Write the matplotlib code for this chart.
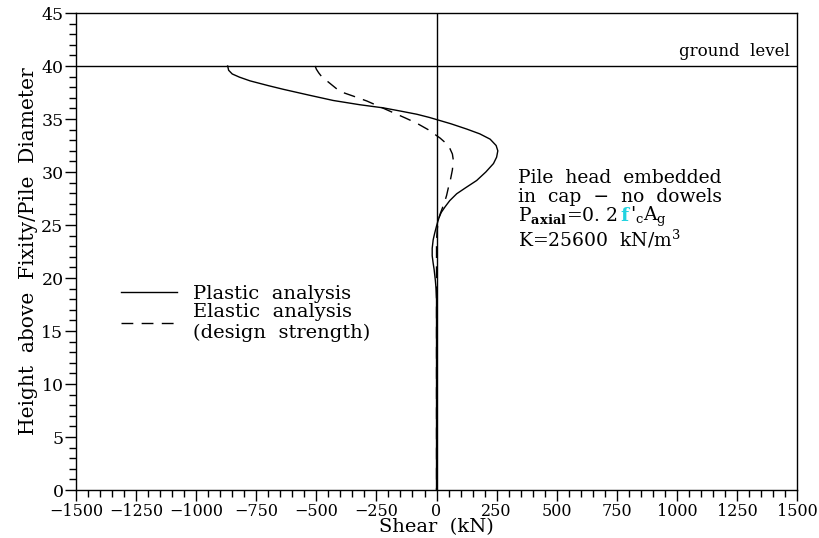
import matplotlib
matplotlib.use("Agg")
import matplotlib.pyplot as plt
from matplotlib.ticker import MultipleLocator

plt.rcParams['font.family'] = ['DejaVu Serif']
plt.rcParams['mathtext.fontset'] = 'dejavuserif'

# shear profiles along the pile (kN vs height / diameter)
plastic_height = [40.0, 39.6, 39.25, 38.95, 38.6, 38.15, 37.8, 37.25, 36.75, 36.35,
                  36.05, 35.75, 35.45, 35.15, 34.95, 34.55, 34.05, 33.6, 33.1, 32.5,
                  32.0, 31.4, 30.8, 30.0, 29.2, 28.5, 27.95, 27.3, 26.7, 26.2,
                  25.8, 25.3, 24.9, 24.2, 23.6, 22.8, 22.1, 21.4, 20.8, 19.8,
                  19.0, 18.0, 10.0, 0.0]
plastic_shear = [-869, -865, -850, -820, -776, -700, -637, -530, -430, -320,
                 -221, -150, -82, -30, 0, 60, 126, 180, 223, 248,
                 255, 250, 237, 205, 167, 120, 84, 55, 35, 20,
                 12, 5, 0, -8, -14, -18, -18, -14, -10, -5,
                 -2, 0, 0, 0]

elastic_height = [40.0, 39.7, 39.35, 39.0, 38.3, 37.6, 37.15, 36.7, 36.15, 35.6,
                  35.1, 34.6, 34.0, 33.2, 32.7, 32.2, 31.7, 31.1, 30.2, 29.4,
                  28.6, 27.8, 27.2, 26.7, 26.1, 25.5, 24.6, 23.5, 10.0, 0.0]
elastic_shear = [-505, -500, -490, -478, -440, -402, -345, -290, -235, -180,
                 -130, -82, -35, 15, 40, 56, 66, 70, 66, 59,
                 50, 42, 34, 26, 16, 8, 3, 0, 0, 0]

ground_level = 40
x_ticks = [-1500, -1250, -1000, -750, -500, -250, 0, 250, 500, 750, 1000, 1250, 1500]
y_ticks = [0, 5, 10, 15, 20, 25, 30, 35, 40, 45]

fig = plt.figure(figsize=(8.2, 5.38), dpi=100)
ax = fig.add_axes([0.0927, 0.0892, 0.8793, 0.8866])

ax.plot(plastic_shear, plastic_height, color='black', lw=1.0, label='Plastic  analysis')
ax.plot(elastic_shear, elastic_height, color='black', lw=1.0, dashes=(8.5, 6),
        label='Elastic  analysis\n(design  strength)')

ax.axhline(ground_level, color='black', lw=1.0)
ax.axvline(0, color='black', lw=1.0)

ax.set_xlim(-1500, 1500)
ax.set_ylim(0, 45)
ax.set_xticks(x_ticks)
ax.set_yticks(y_ticks)
ax.set_xticklabels([str(v).replace('-', '\u2212') for v in x_ticks])
ax.xaxis.set_minor_locator(MultipleLocator(50))
ax.yaxis.set_minor_locator(MultipleLocator(1))
ax.tick_params(which='major', direction='out', length=8, width=1, labelsize=11.5, pad=1)
ax.tick_params(axis='y', which='major', labelsize=12.5)
ax.tick_params(which='minor', direction='out', length=5, width=1)
for s in ax.spines.values():
    s.set_linewidth(1.0)

ax.set_xlabel('Shear  (kN)', fontsize=14, labelpad=-1)
ax.set_ylabel('Height  above  Fixity/Pile  Diameter', fontsize=14.5, labelpad=2)

ax.text(1470, ground_level + 0.6, 'ground  level', ha='right', va='bottom', fontsize=12)

leg = ax.legend(loc='upper left', bbox_to_anchor=(0.062, 0.43), frameon=False,
                handlelength=2.9, handletextpad=0.8, fontsize=14, labelspacing=0.0,
                borderaxespad=0, borderpad=0)

# annotation block on the right
tkw = dict(fontsize=13.5, ha='left', va='baseline', transform=ax.transAxes)
x0 = 0.613
ax.text(x0, 0.643, 'Pile  head  embedded', **tkw)
ax.text(x0, 0.603, 'in  cap  \u2212  no  dowels', **tkw)
p1 = ax.text(x0, 0.563, r'P$_{\mathbf{axial}}$=0. 2', **tkw)
ax.text(x0, 0.511, r'K=25600  kN/m$^{3}$', **tkw)

# the remaining pieces of the P_axial line follow on the same baseline
fig.canvas.draw()
r = fig.canvas.get_renderer()
to_ax = ax.transAxes.inverted()
x1 = to_ax.transform((p1.get_window_extent(r).x1 + 3, 0))[0]
p2 = ax.text(x1, 0.563, 'f', color='#22d3e0', fontweight='bold', **tkw)
fig.canvas.draw()
x2 = to_ax.transform((p2.get_window_extent(r).x1 + 1, 0))[0]
ax.text(x2, 0.563, r"'$_{\mathrm{c}}$A$_{\mathrm{g}}$", **tkw)

fig.savefig('out.png', dpi=100)
